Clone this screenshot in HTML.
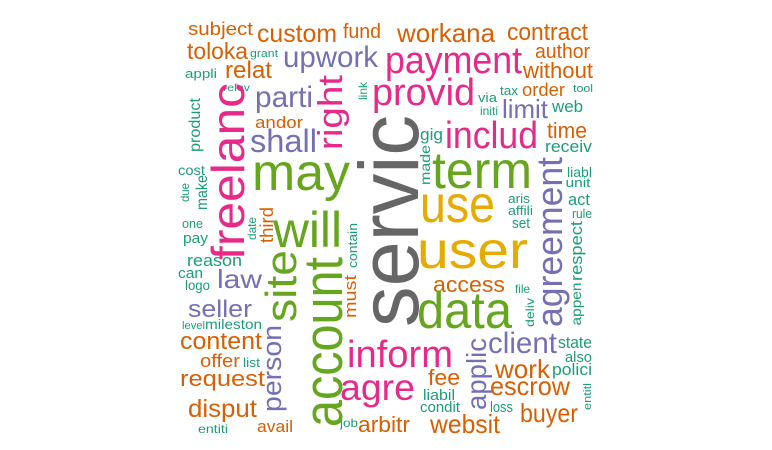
<!DOCTYPE html>
<html>
<head>
<meta charset="utf-8">
<style>
  html,body{margin:0;padding:0;background:#fff;}
  svg{display:block;}
  text{font-family:"Liberation Sans", Arial, sans-serif;}
</style>
</head>
<body>
<svg id="cloud" width="772" height="450" viewBox="0 0 772 450" xmlns="http://www.w3.org/2000/svg">
  <rect x="0" y="0" width="772" height="450" fill="#ffffff"/>
</svg>
<script>
// Word cloud data
const words = ["subject","custom","fund","toloka","grant","upwork","appli","relat","relev","parti","andor","shall","may","cost","one","pay","reason","can","logo","law","seller","level","mileston","content","offer","list","request","disput","entiti","avail","will","inform","agre","job","arbitr","workana","contract","author","payment","without","provid","via","tax","order","tool","initi","limit","web","gig","includ","time","receiv","term","liabl","unit","act","rule","aris","affili","set","use","user","access","file","data","client","state","also","work","polici","fee","escrow","liabil","condit","loss","buyer","websit",
  "servic","freelanc","right","link","product","make","due","site","account","person","must","contain","third","date","made","agreement","respect","appen","deliv","applic","entitl"];
const sizes = [18,25,20,23,11,30,13,24,10,30,17,32,52,14,13,15,17,15,14,26,24,11,14,24,18,13,22,25,12,17,50,38,37,12,22,26,24,20,38,22,38,13,13,18,11,12,26,17,17,38,22,17,52,14,13,17,13,13,13,15,52,52,22,12,52,30,17,15,26,17,22,26,15,15,15,26,26,
  84,46,34,12,16,16,12,44,55,27,17,13,18,12,14,36,17,14,12,28,11];
const colorKeys = ["O","O","O","O","T","P","T","O","T","P","O","P","G","T","T","T","T","T","T","P","P","T","T","O","O","T","O","O","T","O","G","K","K","T","O","O","O","O","K","O","K","T","T","O","T","T","P","T","T","K","O","T","G","T","T","T","T","T","T","T","Y","Y","O","T","G","P","T","T","O","T","O","O","T","T","T","O","O",
  "S","K","K","T","T","T","T","G","G","P","O","T","O","T","T","P","T","T","T","P","T"];
const rotated = words.map((w,i)=> i>=77);
// layout (positions): [x, y, length]
const layout = [
[220.5,35,65],[297,42,80],[362,38,38],[217.5,59,61],[264,57,28],[330.5,67,95],[201,78,32],[248.5,78,47],[236.5,91,27],[284,107,58],[279,128,48],[283.5,152,67],[301,190,98],[191.5,175,27],[192.5,228,21],[195.5,243,25],[214.5,266,55],[190.5,278,25],[197.5,290,25],[239.5,288,45],[220,317,64],[193.5,329,23],[233.5,329,57],[221,349,82],[220,367,40],[251.5,367,17],[222.5,386,85],[222.5,417,69],[213,433,30],[275,432,36],[307.5,247,69],[400,367,106],[377.5,400,75],[349,427,18],[384,432,52],[446,42,98],[547.5,40,81],[562.5,58,55],[453.5,73,137],[558,78,70],[423.5,105,103],[487.5,102,19],[509,95,18],[543.5,96,43],[583,92,20],[489,115,18],[525,118,46],[567.5,112,31],[431.5,140,23],[491.5,148,93],[567,138,40],[568.5,152,47],[482,188,100],[579.5,177,25],[578,187,25],[579,205,22],[582,218,20],[519,203,22],[520.5,215,25],[521,228,18],[457.5,222,75],[472.5,268,111],[469,292,72],[522.5,293,15],[464.5,328,95],[522.5,353,69],[575,348,34],[578.5,362,27],[522.5,378,55],[572,375,40],[444,385,32],[530,395,80],[439,400,32],[440,412,40],[501.5,412,23],[549,422,58],[465,433,70],
[418,221,212],[244,171.5,177],[342,112.5,75],[367,91,18],[200,125,54],[207,192.5,35],[189,192.5,19],[296,286,72],[342,342,170],[281,368.5,87],[356,296.5,43],[357,245.5,45],[273,225,36],[256,228.5,23],[430,165,40],[562,242,170],[582,251,60],[581,304,43],[534,312.5,29],[486,374,72],[591,396.5,27]
];
const palette = {T:"#1B9E77",O:"#D95F02",P:"#7570B3",K:"#E7298A",G:"#66A61E",Y:"#E6AB02",S:"#666666"};
const svg = document.getElementById('cloud');
const NS = "http://www.w3.org/2000/svg";
words.forEach((w,i)=>{
  const p = layout[i];
  const t = document.createElementNS(NS,'text');
  
  
  t.setAttribute('x', p[0]);
  t.setAttribute('y', p[1]);
  t.setAttribute('font-size', sizes[i]);
  t.setAttribute('fill', palette[colorKeys[i]]);
  t.setAttribute('text-anchor', 'middle');
  t.setAttribute('textLength', p[2]);
  t.setAttribute('lengthAdjust', 'spacingAndGlyphs');
  if (rotated[i]) t.setAttribute('transform', 'rotate(-90 ' + p[0] + ' ' + p[1] + ')');
  t.textContent = w;
  svg.appendChild(t);
});
</script>
</body>
</html>
